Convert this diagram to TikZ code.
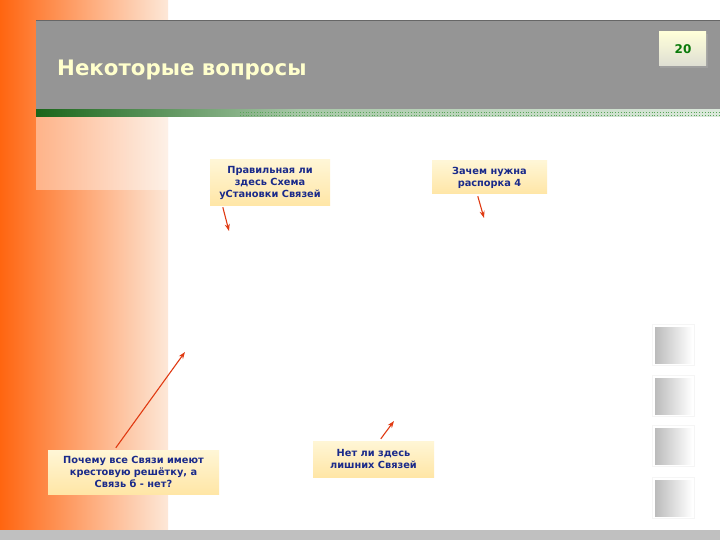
\documentclass[tikz,border=0pt]{standalone}
\usepackage{fontspec}
\setmainfont{DejaVu Sans}
\usetikzlibrary{arrows.meta}
\definecolor{orangeL}{HTML}{FF6510}
\definecolor{peachR}{HTML}{FDE8D8}
\definecolor{hdrgray}{HTML}{959595}
\definecolor{titlecol}{HTML}{FFFFCC}
\definecolor{gdark}{HTML}{1A661A}
\definecolor{glight}{HTML}{A8C8A8}
\definecolor{navy}{HTML}{1A2A8A}
\definecolor{boxtop}{HTML}{FFF6D6}
\definecolor{boxbot}{HTML}{FFE6A6}
\definecolor{arrred}{HTML}{E03A12}
\definecolor{pnum}{HTML}{0A7A0A}
\definecolor{tabgray}{HTML}{BBBBBB}
\definecolor{botbar}{HTML}{C0C0C0}
\tikzset{
  callout/.style={top color=boxtop, bottom color=boxbot, draw=none, inner sep=2pt,
    align=center, text=navy, font=\fontsize{9.8}{12}\selectfont\bfseries},
  arr/.style={draw=arrred, line width=1.1pt, -{Stealth[length=7pt,width=5pt]}},
  tabbox/.style={left color=tabgray, right color=white, draw=none}
}
\begin{document}
\begin{tikzpicture}[x=1pt,y=-1pt]
\useasboundingbox (0,0) rectangle (720,540);
\fill[white] (0,0) rectangle (720,540);
% left gradient strip
\shade[left color=orangeL, right color=peachR] (0,0) rectangle (168,530);
% lighter panel under header
\fill[white, opacity=0.4] (36,110) rectangle (168,190);
% header
\fill[hdrgray] (36,20) rectangle (720,110);
\draw[gray!80!black, line width=0.6pt] (36,20.3) -- (720,20.3);
% green bar
\shade[left color=gdark, right color=glight] (36,110) rectangle (300,117);
\shade[left color=glight, right color=glight!40!white] (300,110) rectangle (720,117);
\draw[gray!70!green, line width=0.8pt, dotted] (240,112) -- (720,112);
\draw[gray!70!green, line width=0.8pt, dotted] (240,115) -- (720,115);
% title
\node[anchor=base west, text=titlecol, inner sep=0pt, font=\fontsize{21.3}{24}\selectfont\bfseries] (title) at (57,76) {Некоторые вопросы};
% page number
\fill[gray!75] (660,34) rectangle (708,68);
\shade[top color=white!85!yellow, bottom color=yellow!15!gray!30] (659,32) rectangle (706,66);
\node[text=pnum, font=\fontsize{12}{14}\selectfont\bfseries] (pg) at (683,49) {20};
% right tabs
\foreach \ya/\yb in {327/363, 378/414, 428/464, 480/516}{
  \shade[tabbox] (655,\ya) rectangle (692,\yb);
  \draw[gray!8, line width=0.5pt] (652,\ya-3) rectangle (694,\yb+2);
}
% bottom bar
\fill[botbar] (0,530) rectangle (720,540);
% callouts
\node[callout, minimum width=120pt, minimum height=46pt] (q1) at (270,183)
  {Правильная ли\\здесь Схема\\уСтановки Связей};
\node[callout, minimum width=115pt, minimum height=33pt] (q2) at (489.5,177.5)
  {Зачем нужна\\распорка 4};
\node[callout, minimum width=171pt, minimum height=44pt] (q3) at (133.5,472)
  {Почему все Связи имеют\\крестовую решётку, а\\Связь б - нет?};
\node[callout, minimum width=121pt, minimum height=36pt] (q4) at (373.5,459)
  {Нет ли здесь\\лишних Связей};
% arrow targets
\coordinate (t1) at (229,231);
\coordinate (t2) at (484,218);
\coordinate (t3) at (185,352);
\coordinate (t4) at (394,421);
\draw[arr] ([xshift=13pt,yshift=-1pt]q1.south west) -- (t1);
\draw[arr] ([xshift=46pt,yshift=-2pt]q2.south west) -- (t2);
\draw[arr] ([xshift=68pt,yshift=2pt]q3.north west) -- (t3);
\draw[arr] ([xshift=68pt,yshift=2pt]q4.north west) -- (t4);
\end{tikzpicture}
\end{document}
